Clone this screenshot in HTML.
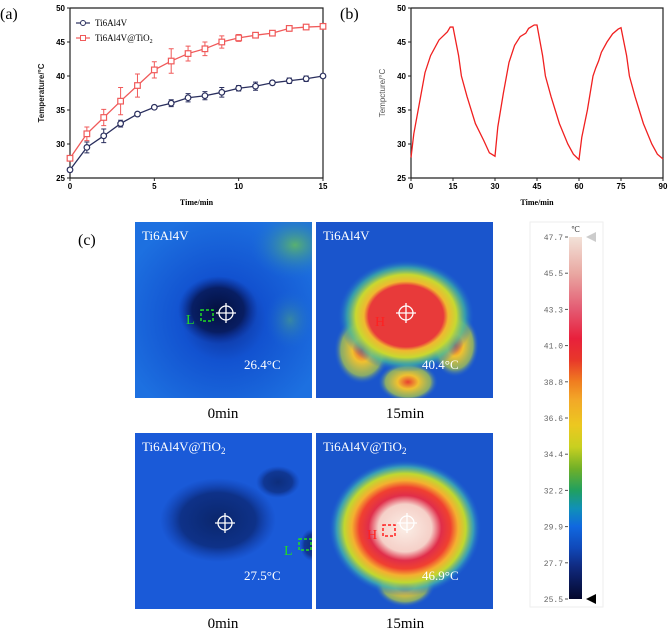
<!DOCTYPE html>
<html><head><meta charset="utf-8">
<style>
body{margin:0;background:#fff;width:669px;height:631px;overflow:hidden;position:relative;font-family:"Liberation Serif",serif}
svg{position:absolute;left:0;top:0}
</style></head>
<body>
<svg width="669" height="631" viewBox="0 0 669 631" xmlns="http://www.w3.org/2000/svg">
<defs>
<linearGradient id="cbar" x1="0" y1="0" x2="0" y2="1">
<stop offset="0" stop-color="#f2e2d8"/><stop offset="0.1" stop-color="#e9a8a2"/>
<stop offset="0.2" stop-color="#e45a72"/><stop offset="0.28" stop-color="#e8203c"/>
<stop offset="0.34" stop-color="#e8382a"/><stop offset="0.4" stop-color="#f07e20"/>
<stop offset="0.45" stop-color="#f2a828"/><stop offset="0.52" stop-color="#ecc820"/>
<stop offset="0.58" stop-color="#c8d020"/><stop offset="0.64" stop-color="#70b028"/>
<stop offset="0.7" stop-color="#20a060"/><stop offset="0.75" stop-color="#1090b8"/>
<stop offset="0.8" stop-color="#1068e0"/><stop offset="0.86" stop-color="#1048b8"/>
<stop offset="0.91" stop-color="#102a80"/><stop offset="1" stop-color="#04082c"/>
</linearGradient>
<radialGradient id="g1" cx="0.5" cy="0.55" r="0.6"><stop offset="0" stop-color="#0c2a8c"/><stop offset="0.4" stop-color="#1252d0"/><stop offset="1" stop-color="#1d70e0"/></radialGradient>
<radialGradient id="g1b" cx="0.5" cy="0.5" r="0.5"><stop offset="0" stop-color="#04103e"/><stop offset="0.65" stop-color="#071a5a" stop-opacity="0.9"/><stop offset="1" stop-color="#0a2a90" stop-opacity="0"/></radialGradient>
<radialGradient id="g2" cx="0.5" cy="0.5" r="0.5"><stop offset="0" stop-color="#e83a3a"/><stop offset="0.55" stop-color="#e83a3a"/><stop offset="0.62" stop-color="#f0b830"/><stop offset="0.74" stop-color="#c8d830"/><stop offset="0.87" stop-color="#40b8a0" stop-opacity="0.7"/><stop offset="1" stop-color="#1a60d8" stop-opacity="0"/></radialGradient>
<radialGradient id="g4" cx="0.5" cy="0.5" r="0.5"><stop offset="0" stop-color="#fbeee6"/><stop offset="0.35" stop-color="#f5d0c8"/><stop offset="0.48" stop-color="#e02e4a"/><stop offset="0.6" stop-color="#f04030"/><stop offset="0.7" stop-color="#f4b030"/><stop offset="0.8" stop-color="#c0d830"/><stop offset="0.9" stop-color="#40b0b0" stop-opacity="0.8"/><stop offset="1" stop-color="#1a60d8" stop-opacity="0"/></radialGradient>
<radialGradient id="gy" cx="0.5" cy="0.5" r="0.5"><stop offset="0" stop-color="#e84030"/><stop offset="0.35" stop-color="#f0c030"/><stop offset="0.75" stop-color="#b8d040" stop-opacity="0.7"/><stop offset="1" stop-color="#1a60d8" stop-opacity="0"/></radialGradient>
<radialGradient id="gg" cx="0.5" cy="0.5" r="0.5"><stop offset="0" stop-color="#58b070"/><stop offset="1" stop-color="#1a70d8" stop-opacity="0"/></radialGradient>
<clipPath id="c1"><rect x="135" y="222" width="177" height="176"/></clipPath>
<clipPath id="c2"><rect x="316" y="222" width="177" height="176"/></clipPath>
<clipPath id="c3"><rect x="135" y="433" width="177" height="176"/></clipPath>
<clipPath id="c4"><rect x="316" y="433" width="177" height="176"/></clipPath>
</defs>

<text x="0" y="19" font-size="16" font-family="Liberation Serif, serif">(a)</text>
<text x="340" y="19" font-size="16" font-family="Liberation Serif, serif">(b)</text>
<text x="78" y="245" font-size="16" font-family="Liberation Serif, serif">(c)</text>

<g id="chartA"></g>
<g id="chartB"></g>

<g clip-path="url(#c1)">
<rect x="135" y="222" width="177" height="176" fill="url(#g1)"/>
<ellipse cx="295" cy="245" rx="45" ry="35" fill="url(#gg)"/>
<ellipse cx="290" cy="320" rx="25" ry="30" fill="url(#gg)" opacity="0.5"/>
<ellipse cx="218" cy="310" rx="40" ry="34" fill="url(#g1b)"/>
<text x="142" y="240" fill="#fff" font-size="13">Ti6Al4V</text>
<text x="244" y="369" fill="#fff" font-size="13">26.4°C</text>
<text x="186" y="324" fill="#22dd22" font-size="14">L</text>
<rect x="201" y="310" width="12" height="11" fill="none" stroke="#22dd22" stroke-width="1.5" stroke-dasharray="3,2"/>
</g>
<g clip-path="url(#c2)">
<rect x="316" y="222" width="177" height="176" fill="#1a55cc"/>
<ellipse cx="362" cy="350" rx="28" ry="34" fill="url(#gy)"/>
<ellipse cx="455" cy="345" rx="24" ry="32" fill="url(#gy)"/>
<ellipse cx="408" cy="382" rx="30" ry="20" fill="url(#gy)"/>
<ellipse cx="406" cy="316" rx="68" ry="56" fill="url(#g2)"/>
<text x="323" y="240" fill="#fff" font-size="13">Ti6Al4V</text>
<text x="422" y="369" fill="#fff" font-size="13">40.4°C</text>
<text x="375" y="326" fill="#ff2020" font-size="14">H</text>
</g>
<g clip-path="url(#c3)">
<rect x="135" y="433" width="177" height="176" fill="#1a5ad8"/>
<ellipse cx="218" cy="520" rx="58" ry="42" fill="url(#g1b)" opacity="0.7"/>
<ellipse cx="278" cy="482" rx="22" ry="16" fill="url(#g1b)" opacity="0.6"/>
<ellipse cx="312" cy="545" rx="12" ry="16" fill="url(#g1b)" opacity="0.6"/>
<text x="142" y="451" fill="#fff" font-size="13">Ti6Al4V@TiO<tspan font-size="9" dy="3">2</tspan></text>
<text x="244" y="580" fill="#fff" font-size="13">27.5°C</text>
<text x="284" y="555" fill="#22dd22" font-size="14">L</text>
<rect x="299" y="539" width="12" height="11" fill="none" stroke="#22dd22" stroke-width="1.5" stroke-dasharray="3,2"/>
</g>
<g clip-path="url(#c4)">
<rect x="316" y="433" width="177" height="176" fill="#1a55cc"/>
<ellipse cx="405" cy="585" rx="30" ry="22" fill="url(#gy)"/>
<ellipse cx="405" cy="528" rx="76" ry="68" fill="url(#g4)"/>
<text x="323" y="451" fill="#fff" font-size="13">Ti6Al4V@TiO<tspan font-size="9" dy="3">2</tspan></text>
<text x="422" y="580" fill="#fff" font-size="13">46.9°C</text>
<text x="367" y="539" fill="#ff2020" font-size="14">H</text>
<rect x="383" y="525" width="12" height="11" fill="none" stroke="#ff2020" stroke-width="1.5" stroke-dasharray="3,2"/>
</g>
<g fill="none" stroke="#fff" stroke-width="1.3">
<circle cx="226" cy="313" r="7"/><path d="M226 303v20M216 313h20"/>
<circle cx="406" cy="313" r="7"/><path d="M406 303v20M396 313h20"/>
<circle cx="225" cy="523" r="7"/><path d="M225 513v20M215 523h20"/>
<circle cx="407" cy="523" r="7"/><path d="M407 513v20M397 523h20"/>
</g>
<g font-size="15" text-anchor="middle">
<text x="223" y="418">0min</text><text x="405" y="418">15min</text>
<text x="223" y="628">0min</text><text x="405" y="628">15min</text>
</g>

<g>
<rect x="530" y="222" width="73" height="385" fill="#fff" stroke="#eee"/>
<rect x="569" y="237" width="13" height="362" fill="url(#cbar)"/>
<text x="571" y="232" font-size="8" fill="#444">℃</text>
<polygon points="586,237 596,232 596,242" fill="#ccc"/>
<polygon points="586,599 596,594 596,604" fill="#000"/>
<g id="cbticks" font-family="Liberation Mono, monospace" font-size="8" fill="#666"></g>
</g>
</svg>
<script>
const timeA=[0,1,2,3,4,5,6,7,8,9,10,11,12,13,14,15];
const ti6=[26.2,29.5,31.2,33.0,34.4,35.4,36.0,36.8,37.1,37.6,38.2,38.5,39.0,39.3,39.6,40.0];
const ti6Err=[0.3,0.8,1.0,0.5,0.3,0.2,0.5,0.6,0.6,0.7,0.4,0.6,0.3,0.4,0.4,0.3];
const tio2=[27.9,31.5,33.9,36.3,38.6,40.9,42.2,43.3,44.0,45.0,45.6,46.0,46.3,47.0,47.2,47.3];
const tio2Err=[0.3,1.0,1.2,2.0,1.7,1.2,1.8,1.1,1.0,0.9,0.5,0.3,0.2,0.4,0.3,0.2];
const yTicks=[25,30,35,40,45,50];
const xTicksA=[0,5,10,15];
const timeB=[0,1,3,5,7,10,13,14,15,17,18,20,23,26,28,30,31,33,35,37,39,41,42,44,45,47,48,50,53,56,58,60,61,63,64,65,66,67,68,70,72,74,75,77,78,80,83,86,88,90];
const tempB=[28,31.5,36,40.5,43,45.3,46.5,47.2,47.2,43,40,37,33,30.5,28.7,28.2,32.5,37.5,42,44.5,45.8,46.3,47,47.5,47.5,43,40,37,33,30,28.5,27.7,31,35,37.5,40,41.2,42.2,43.5,45,46.2,46.9,47.1,43,40,37,33,30,28.5,27.8];
const xTicksB=[0,15,30,45,60,75,90];
const cbLabels=["47.7","45.5","43.3","41.0","38.8","36.6","34.4","32.2","29.9","27.7","25.5"];

const NS="http://www.w3.org/2000/svg";
function mk(parent,tag,attrs){const e=document.createElementNS(NS,tag);for(const k in attrs)e.setAttribute(k,attrs[k]);parent.appendChild(e);return e;}
const Y0=178,Y1=8;
const yS=v=>Y0-(v-25)/25*(Y0-Y1);

function axes(g,x0,x1,xt,xmax,ylabel,bold){
  const xS=t=>x0+t/xmax*(x1-x0);
  const ax=mk(g,'path',{d:`M${x0} ${Y1}V${Y0}H${x1}V${Y1}H${x0}`,fill:'none',stroke:'#222','stroke-width':1.2});
  
  yTicks.forEach(v=>{mk(g,'line',{x1:x0-3,x2:x0,y1:yS(v),y2:yS(v),stroke:'#222'});
    const t=mk(g,'text',{x:x0-5,y:yS(v)+3,'font-size':8,'font-weight':'bold','text-anchor':'end','font-family':'Liberation Sans, sans-serif'});t.textContent=v;
    });
  xt.forEach(v=>{mk(g,'line',{x1:xS(v),x2:xS(v),y1:Y0,y2:Y0+3,stroke:'#222'});
    const t=mk(g,'text',{x:xS(v),y:Y0+11,'font-size':8,'font-weight':'bold','text-anchor':'middle','font-family':'Liberation Sans, sans-serif'});t.textContent=v;
    });
  const xl=mk(g,'text',{x:(x0+x1)/2,y:205,'font-size':8,'font-weight':'bold','text-anchor':'middle','font-family':'Liberation Serif, serif'});xl.textContent='Time/min';
  
  const yl=mk(g,'text',{x:0,y:0,'font-size':8,'font-weight':bold?'bold':'normal',fill:bold?'#222':'#555','text-anchor':'middle','font-family':'Liberation Sans, sans-serif',transform:`translate(${x0-26},${(Y0+Y1)/2}) rotate(-90)`});yl.textContent=ylabel;
  
  return xS;
}
const gA=document.getElementById('chartA');
const xA=axes(gA,70,323,xTicksA,15,'Temperature/°C',true);
function series(vals,errs,color,shape,name){
  const g=mk(gA,'g',{});
  mk(g,'polyline',{points:vals.map((v,i)=>xA(timeA[i])+','+yS(v)).join(' '),fill:'none',stroke:color,'stroke-width':1.3});
  vals.forEach((v,i)=>{const x=xA(timeA[i]);
    mk(g,'path',{d:`M${x} ${yS(v+errs[i])}V${yS(v-errs[i])}M${x-2.5} ${yS(v+errs[i])}h5M${x-2.5} ${yS(v-errs[i])}h5`,stroke:color,'stroke-width':1,fill:'none'});
    const m=shape==='c'?mk(g,'circle',{cx:x,cy:yS(v),r:2.8,fill:'#fff',stroke:color,'stroke-width':1.2}):mk(g,'rect',{x:x-2.8,y:yS(v)-2.8,width:5.6,height:5.6,fill:'#fff',stroke:color,'stroke-width':1.2});
    });
}
series(ti6,ti6Err,'#2a2f5e','c','series-ti6al4v');
series(tio2,tio2Err,'#f05a5a','s','series-ti6al4v-tio2');
const lg=mk(gA,'g',{});
mk(lg,'line',{x1:76,x2:90,y1:23,y2:23,stroke:'#2a2f5e','stroke-width':1.2});mk(lg,'circle',{cx:83,cy:23,r:2.5,fill:'#fff',stroke:'#2a2f5e'});
mk(lg,'line',{x1:76,x2:90,y1:38,y2:38,stroke:'#f05a5a','stroke-width':1.2});mk(lg,'rect',{x:80.5,y:35.5,width:5,height:5,fill:'#fff',stroke:'#f05a5a'});
let t=mk(lg,'text',{x:95,y:26,'font-size':9});t.textContent='Ti6Al4V';
t=mk(lg,'text',{x:95,y:41,'font-size':9});t.innerHTML='Ti6Al4V@TiO<tspan font-size="6" dy="2">2</tspan>';
const gB=document.getElementById('chartB');
const xB=axes(gB,411,663,xTicksB,90,'Tempcture/°C',false);
const lb=mk(gB,'polyline',{points:timeB.map((tt,i)=>xB(tt)+','+yS(tempB[i])).join(' '),fill:'none',stroke:'#f02020','stroke-width':1.3});

const cb=document.getElementById('cbticks');
cbLabels.forEach((l,i)=>{const y=237+i*362/10;
  mk(cb,'line',{x1:565,x2:568,y1:y,y2:y,stroke:'#555'});
  const tx=mk(cb,'text',{x:563,y:y+3,'text-anchor':'end'});tx.textContent=l;
  });
</script>
</body></html>
